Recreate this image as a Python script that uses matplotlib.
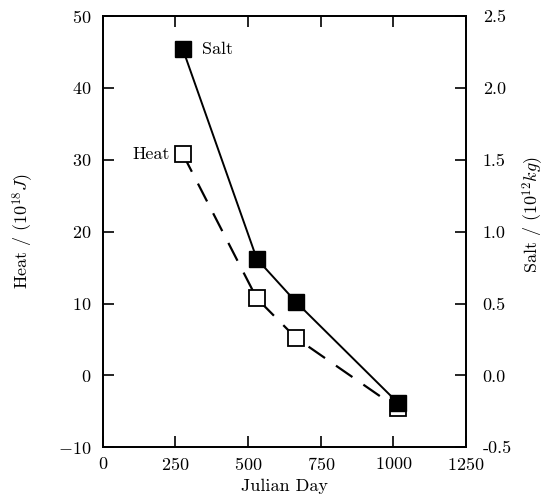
import matplotlib
matplotlib.use('Agg')
import matplotlib.pyplot as plt

plt.rcParams['font.family'] = 'cmr10'
plt.rcParams['mathtext.fontset'] = 'cm'
plt.rcParams['axes.formatter.use_mathtext'] = True

# data
julian_day = [275, 530, 665, 1015]
heat = [30.8, 10.7, 5.2, -4.6]          # 10^18 J, left axis
salt = [2.27, 0.81, 0.51, -0.19]        # 10^12 kg, right axis

fig = plt.figure(figsize=(5.47, 4.97), dpi=100)
ax = fig.add_axes([0.188, 0.10, 0.664, 0.868])

ax.plot(julian_day, heat, color='black', lw=1.6, dashes=(9, 6),
        marker='s', ms=11, mfc='white', mec='black', mew=1.3, zorder=2)
ax.set_xlim(0, 1250)
ax.set_ylim(-10, 50)
ax.set_xticks([0, 250, 500, 750, 1000, 1250])
ax.set_yticks([-10, 0, 10, 20, 30, 40, 50])
ax.tick_params(direction='in', length=8, width=1.2, labelsize=13, top=True)
ax.tick_params(axis='y', pad=8)
ax.tick_params(axis='x', pad=6)
ax.set_xlabel('Julian Day', fontsize=13, labelpad=4)
ax.set_ylabel(r'Heat / (10$^{18}$$J$)', fontsize=13, labelpad=16)
ax.text(julian_day[0] - 45, heat[0], 'Heat', fontsize=13, ha='right', va='center')

ax2 = ax.twinx()
ax2.plot(julian_day, salt, color='black', lw=1.4,
         marker='s', ms=11, mfc='black', mec='black', zorder=3)
ax2.set_ylim(-0.5, 2.5)
ax2.set_yticks([-0.5, 0.0, 0.5, 1.0, 1.5, 2.0, 2.5])
ax2.yaxis.set_major_formatter(matplotlib.ticker.FormatStrFormatter('%.1f'))
ax2.tick_params(direction='in', length=8, width=1.2, labelsize=13, pad=12)
ax2.set_ylabel(r'Salt / (10$^{12}$$kg$)', fontsize=13)
ax2.yaxis.set_label_coords(1.15, 0.54)
ax2.text(julian_day[0] + 65, salt[0], 'Salt', fontsize=13, ha='left', va='center')

for a in (ax, ax2):
    for s in a.spines.values():
        s.set_linewidth(1.3)

fig.savefig('out.png', dpi=100)
